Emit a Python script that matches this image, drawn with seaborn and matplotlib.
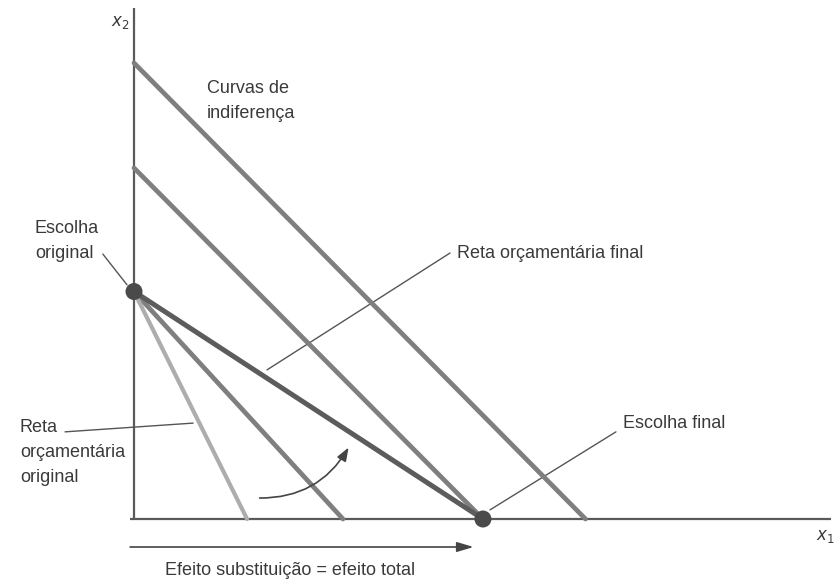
import numpy as np
import pandas as pd
import matplotlib.pyplot as plt
import seaborn as sns

# =====================================
# Data (units of x1 and x2)
# =====================================
curve_names = ["ic_top", "ic_mid", "ic_low"]
curve_x = [[0.0, 12.9], [0.0, 9.97], [0.0, 5.97]]
curve_y = [[13.03, 0.0], [10.03, 0.0], [6.5, 0.0]]

budget_original_x = [0.0, 3.23]
budget_original_y = [6.5, 0.0]
budget_final_x = [0.0, 9.97]
budget_final_y = [6.5, 0.0]

choice_original = (0.0, 6.5)
choice_final = (9.97, 0.0)

axis_x_end = 19.9
axis_y_end = 14.6

# =====================================
# Figure
# =====================================
sns.set_style("white")
plt.rcParams["font.family"] = ["Liberation Sans", "DejaVu Sans"]

fig = plt.figure(figsize=(8.36, 5.81), dpi=100)
ax = fig.add_axes([0, 0, 1, 1])
ax.set_xlim(-134 / 35, (836 - 134) / 35)
ax.set_ylim(-62 / 35, 519 / 35)
ax.axis("off")

txt_color = "#3a3a3a"
curve_color = "#7f7f7f"

# axes lines
ax.plot([-0.12, axis_x_end], [0, 0], color="#5a5a5a", lw=1.6, solid_capstyle="butt", zorder=2)
ax.plot([0, 0], [0, axis_y_end], color="#5a5a5a", lw=1.6, solid_capstyle="butt", zorder=2)

# indifference curves
for name, xs, ys in zip(curve_names, curve_x, curve_y):
    df = pd.DataFrame({"x1": xs, "x2": ys})
    sns.lineplot(data=df, x="x1", y="x2", ax=ax, color=curve_color, lw=3.4,
                 sort=False, estimator=None, zorder=3)

# budget lines
sns.lineplot(x=budget_original_x, y=budget_original_y, ax=ax, color="#adadad",
             lw=3.0, sort=False, estimator=None, zorder=3)
sns.lineplot(x=budget_final_x, y=budget_final_y, ax=ax, color="#5c5c5c",
             lw=3.6, sort=False, estimator=None, zorder=4)

# choices
ax.scatter([choice_original[0], choice_final[0]], [choice_original[1], choice_final[1]],
           s=150, color="#4a4a4a", zorder=5, edgecolor="none")

# labels
fs = 13
ls = 1.6
ax.text(-0.4, 14.2, "$x_2$", fontsize=12, color=txt_color, ha="center", va="center")
ax.text(19.75, -0.5, "$x_1$", fontsize=12, color=txt_color, ha="center", va="center")

ax.text(2.09, 12.55, "Curvas de\nindiferença", fontsize=fs, color=txt_color,
        ha="left", va="top", linespacing=ls)
ax.text(-2.83, 8.55, "Escolha\noriginal", fontsize=fs, color=txt_color,
        ha="left", va="top", linespacing=ls)
ax.text(9.23, 7.6, "Reta orçamentária final", fontsize=fs, color=txt_color,
        ha="left", va="center")
ax.text(-3.26, 2.85, "Reta\norçamentária\noriginal", fontsize=fs, color=txt_color,
        ha="left", va="top", linespacing=ls)
ax.text(13.97, 2.74, "Escolha final", fontsize=fs, color=txt_color,
        ha="left", va="center")
ax.text(4.46, -1.46, "Efeito substituição = efeito total", fontsize=fs, color=txt_color,
        ha="center", va="center")

# leader lines
leaders = [
    ((-0.89, 7.57), (-0.2, 6.69)),
    ((3.8, 4.26), (9.03, 7.6)),
    ((-1.97, 2.49), (1.69, 2.74)),
    ((10.17, 0.26), (13.77, 2.49)),
]
for (x0, y0), (x1, y1) in leaders:
    ax.plot([x0, x1], [y0, y1], color="#555555", lw=1.0, zorder=2)

# curved rotation arrow
ax.annotate("", xy=(6.17, 2.11), xytext=(3.51, 0.6),
            arrowprops=dict(arrowstyle="-|>,head_length=0.8,head_width=0.3",
                            color="#444444", lw=1.2,
                            connectionstyle="arc3,rad=0.3"))

# substitution effect arrow
ax.annotate("", xy=(9.7, -0.8), xytext=(-0.11, -0.8),
            arrowprops=dict(arrowstyle="-|>,head_length=1.0,head_width=0.3",
                            color="#444444", lw=1.2, shrinkA=0, shrinkB=0))

plt.savefig("out.png", dpi=100, facecolor="white")
plt.close()
